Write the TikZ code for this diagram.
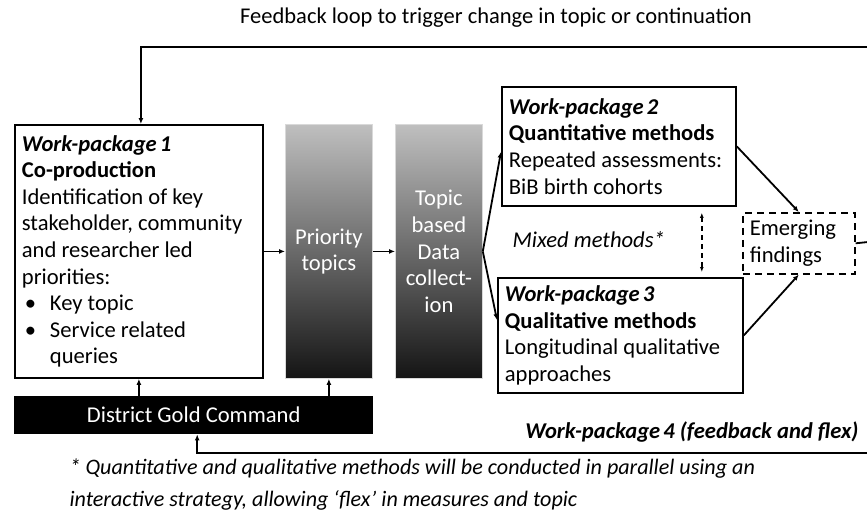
\documentclass[tikz,border=0pt]{standalone}
\usepackage{fontspec}
\setmainfont{Carlito}
\usetikzlibrary{arrows.meta}

\begin{document}
\begin{tikzpicture}[x=1pt, y=-1pt,
    txt/.style={font=\fontsize{22.6}{26.6}\selectfont},
    wpbox/.style={txt, draw, line width=1.8pt, align=flush left, inner xsep=7pt, anchor=north west},
    column/.style={txt, text=white, align=center, anchor=north west, minimum width=87pt,
      minimum height=254pt, top color=black!25, bottom color=black!92, draw=black!15, line width=0.8pt},
    arr/.style={line width=1.8pt, -{Latex[length=6pt,width=5pt]}},
    dasharr/.style={line width=1.5pt, dashed, dash pattern=on 5pt off 4pt, {Latex[length=5pt,width=4pt]}-{Latex[length=5pt,width=4pt]}}]
  \useasboundingbox (0,0) rectangle (867,515);

  \node [txt, font=\fontsize{22.5}{26}\selectfont] (title) at (496,18) {Feedback loop to trigger change in topic or continuation};

  \node [wpbox, text width=234pt, minimum width=248pt, minimum height=253pt] (wp1) at (14,124)
    {\textbf{\textit{Work-package\hspace{3pt}1}}\\ \textbf{Co-production}\\ Identification of key\\ stakeholder, community\\
     and researcher led\\ priorities:\\ \makebox[28pt][l]{\hspace{3pt}\textbullet}Key topic\\
     \makebox[28pt][l]{\hspace{3pt}\textbullet}Service related\\ \hspace*{28pt}queries};

  \node [column] (prio) at (285,124) {Priority\\ topics};
  \node [column] (topic) at (395,124) {Topic\\ based\\ Data\\ collect-\\ ion};

  \node [wpbox, text width=220pt, minimum width=234pt, minimum height=119pt] (wp2) at (501,86)
    {\textbf{\textit{Work-package\hspace{3pt}2}}\\ \textbf{Quantitative methods}\\ Repeated assessments:\\ BiB birth cohorts};
  \node [wpbox, text width=231pt, minimum width=245pt, minimum height=115pt] (wp3) at (497,277)
    {\textbf{\textit{Work-package\hspace{3pt}3}}\\ \textbf{Qualitative methods}\\ Longitudinal qualitative\\ approaches};

  \node [txt, anchor=west] (mixed) at (509,240) {\textit{Mixed methods*}};

  \node [wpbox, line width=1.6pt, dashed, dash pattern=on 7pt off 5pt, text width=98pt, minimum width=112pt,
    minimum height=61pt] (emerg) at (742,212) {Emerging\\ findings};

  \node [txt, fill=black, text=white, minimum width=359pt, minimum height=38pt, anchor=north west,
    inner sep=0pt] (dgc) at (14,396) {District Gold Command};

  \node [txt, anchor=east] (wp4) at (862,432) {\textbf{\textit{Work-package\hspace{3pt}4 (feedback and flex)}}};

  \node [txt, anchor=north west, align=flush left, font=\fontsize{22.1}{32}\selectfont] (note) at (66,455)
    {\textit{* Quantitative and qualitative methods will be conducted in parallel using an}\\
     \textit{interactive strategy, allowing ‘flex’ in measures and topic}};

  \coordinate (fbtop) at (868,47);
  \coordinate (fbbot) at (868,453);
  \coordinate (fbmid) at (868,242);

  \draw [arr] (fbtop) -| ([xshift=2pt]wp1.north);
  \draw [arr] (fbbot) -| ([xshift=3.5pt]dgc.south);
  \draw [line width=1.8pt] (emerg.east) -- (fbmid);

  \draw [arr] (dgc.north -| wp1.south) -- (wp1.south);
  \draw [arr] (dgc.north -| prio.south) -- (prio.south);
  \draw [arr] (wp1.east) -- (prio.west);
  \draw [arr] (prio.east) -- (topic.west);
  \draw [arr] (topic.east) -- ([yshift=55pt]wp2.south west);
  \draw [arr] (topic.east) -- ([yshift=-43pt]wp3.north west);
  \draw [arr] (wp2.east) -- (emerg.north);
  \draw [arr] (wp3.east) -- (emerg.south);
  \draw [dasharr, shorten <=6pt, shorten >=5pt] ([xshift=-35pt]wp2.south east) -- ([xshift=-42pt]wp3.north east);
\end{tikzpicture}
\end{document}
